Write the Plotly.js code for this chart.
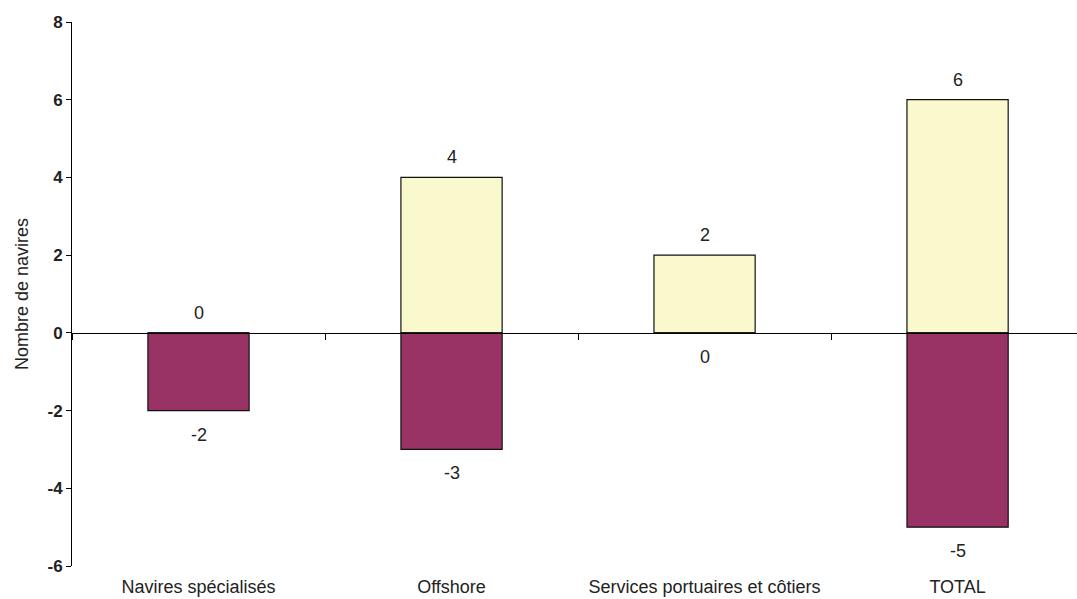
<!DOCTYPE html>
<html>
<head>
<meta charset="utf-8">
<script src="https://cdn.plot.ly/plotly-3.0.1.min.js"></script>
<style>html,body{margin:0;padding:0;background:#fff;}#chart{width:1077px;height:599px;}</style>
</head>
<body>
<div id="chart"></div>
<script>
const categories = ["Navires spécialisés", "Offshore", "Services portuaires et côtiers", "TOTAL"];
const entrees = [0, 4, 2, 6];
const sorties = [-2, -3, 0, -5];
const yTickVals = [-6, -4, -2, 0, 2, 4, 6, 8];
const yTickText = yTickVals.map(v => String(v));

const FONT = "Liberation Sans, Arial, sans-serif";
const TXT = "#222222";

const traces = [
  {
    type: "bar", x: categories, y: entrees, xaxis: "x", yaxis: "y",
    width: 0.4, marker: {color: "#FAF8CD", line: {color: "#111111", width: 1.2}},
    hoverinfo: "x+y", showlegend: false
  },
  {
    type: "bar", x: categories, y: sorties, xaxis: "x2", yaxis: "y",
    width: 0.4, marker: {color: "#993366", line: {color: "#111111", width: 1.2}},
    hoverinfo: "x+y", showlegend: false
  }
];

const annotations = [];
categories.forEach((c, i) => {
  annotations.push({x: c, y: entrees[i], xref: "x", yref: "y", text: String(entrees[i]),
    showarrow: false, yanchor: "middle", yshift: 20, font: {family: FONT, size: 18, color: TXT}});
  annotations.push({x: c, y: sorties[i], xref: "x", yref: "y", text: String(sorties[i]),
    showarrow: false, yanchor: "middle", yshift: -24, font: {family: FONT, size: 18, color: TXT}});
});

const xr = [-0.5, 3.472];
const layout = {
  width: 1077, height: 599,
  margin: {l: 72, r: 0, t: 22, b: 33},
  paper_bgcolor: "#ffffff", plot_bgcolor: "#ffffff",
  showlegend: false,
  barmode: "relative",
  font: {family: FONT, color: TXT},
  xaxis: {
    type: "category", range: xr, showline: false, showgrid: false, zeroline: false,
    ticks: "", tickfont: {family: FONT, size: 18, color: TXT}, ticklabelstandoff: 8,
    fixedrange: true
  },
  xaxis2: {
    type: "category", range: xr, overlaying: "x", anchor: "free",
    position: 6 / 14, side: "bottom",
    showline: true, linecolor: "#000000", linewidth: 1,
    ticks: "outside", tickson: "boundaries", ticklen: 6, tickcolor: "#000000", tickwidth: 1,
    showticklabels: false, showgrid: false, zeroline: false, fixedrange: true
  },
  yaxis: {
    range: [-6, 8], tickvals: yTickVals, ticktext: yTickText, showgrid: false, zeroline: false,
    showline: true, linecolor: "#000000", linewidth: 1,
    ticks: "outside", ticklen: 5, tickcolor: "#000000", tickwidth: 1,
    tickfont: {family: FONT, size: 17, color: TXT, weight: "bold"},
    title: {text: "Nombre de navires", font: {family: FONT, size: 18, color: TXT}, standoff: 14},
    fixedrange: true
  },
  annotations: annotations
};

Plotly.newPlot("chart", traces, layout, {displayModeBar: false, staticPlot: true});
</script>
</body>
</html>
